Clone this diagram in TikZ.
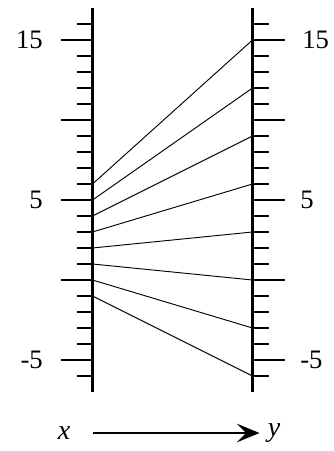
\documentclass[tikz,border=0pt]{standalone}
\usepackage{fontspec}
\setmainfont{Liberation Serif}
\usetikzlibrary{arrows.meta}
\begin{document}
\begin{tikzpicture}[x=0.75pt,y=-0.75pt,
  axisline/.style={line width=2.2pt},
  tickmark/.style={line width=1.7pt},
  mapline/.style={line width=0.7pt},
  numlab/.style={font=\fontsize{20}{22}\selectfont, inner sep=0pt},
  varlab/.style={font=\fontsize{21}{23}\selectfont\itshape, inner sep=0pt}]
\useasboundingbox (0,0) rectangle (333,451);
% axes
\coordinate (Ltop) at (92.5,8);
\coordinate (Lbot) at (92.5,392);
\coordinate (Rtop) at (252.5,8);
\coordinate (Rbot) at (252.5,392);
\draw[axisline] (Ltop) -- (Lbot);
\draw[axisline] (Rtop) -- (Rbot);
% tick points
\foreach \v in {-6,...,16} {
  \coordinate (L\v) at (92.5,{280-16*\v});
  \coordinate (R\v) at (252.5,{280-16*\v});
}
% short ticks
\foreach \v in {-6,-4,-3,-2,-1,1,2,3,4,6,7,8,9,11,12,13,14,16} {
  \draw[tickmark] (L\v) -- ++(-16,0);
  \draw[tickmark] (R\v) -- ++(16,0);
}
% long ticks
\foreach \v in {-5,0,5,10,15} {
  \draw[tickmark] (L\v) -- ++(-32,0);
  \draw[tickmark] (R\v) -- ++(32,0);
}
% labels
\node[numlab, anchor=east] (l15) at (43,40) {15};
\node[numlab, anchor=east] (l5) at (43,200) {5};
\node[numlab, anchor=east] (lm5) at (43,360) {-5};
\node[numlab, anchor=west] (r15) at (302,40) {15};
\node[numlab, anchor=west] (r5) at (300,200) {5};
\node[numlab, anchor=west] (rm5) at (300,360) {-5};
% mapping lines y = 3x - 3
\foreach \a/\b in {6/15,5/12,4/9,3/6,2/3,1/0,0/-3,-1/-6} {
  \draw[mapline] (L\a) -- (R\b);
}
% bottom arrow
\node[varlab] (xv) at (64,433) {x};
\node[varlab] (yv) at (274,433) {y};
\draw[line width=1.5pt, -{Stealth[length=17pt,width=14pt,inset=7pt]},
  shorten <=17pt, shorten >=6pt] (xv.east) -- (yv.west);
\end{tikzpicture}
\end{document}
